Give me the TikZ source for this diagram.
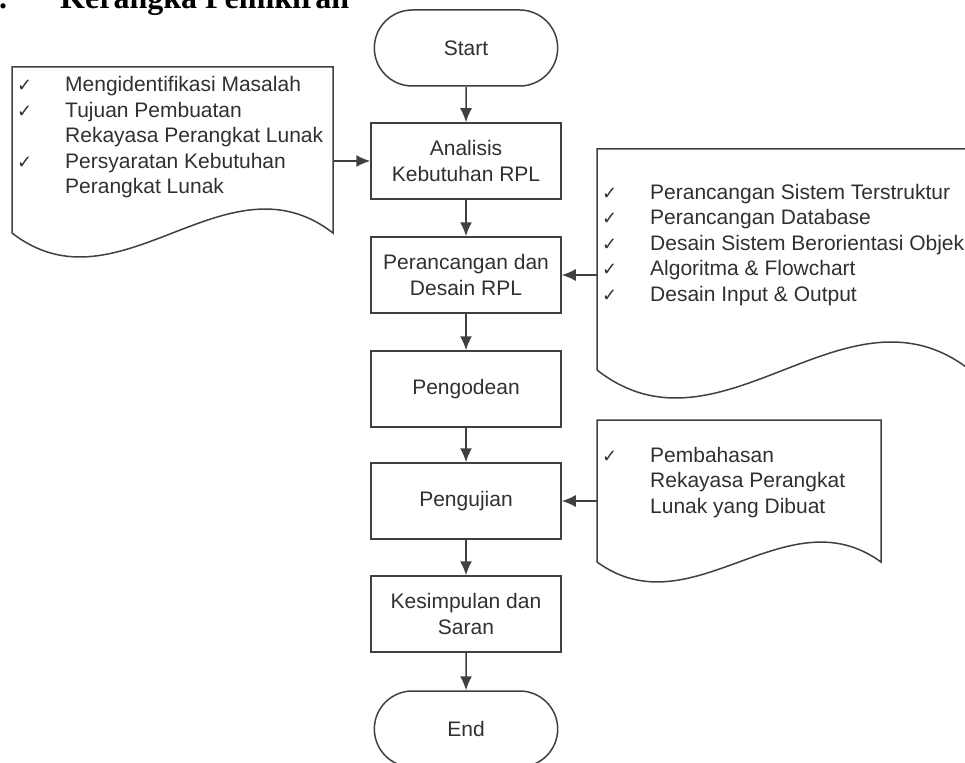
\documentclass[tikz,border=0pt]{standalone}
\usepackage{fontspec}
\setmainfont{Liberation Sans}
\newfontfamily\titlefont{Liberation Serif}
\newfontfamily\checkfont{DejaVu Sans}
\usetikzlibrary{shapes.misc,arrows.meta}
\definecolor{linegray}{HTML}{404040}
\definecolor{textgray}{HTML}{303030}
\newcommand{\ck}{{\checkfont\fontsize{18}{18}\selectfont ✓}}

\begin{document}
\begin{tikzpicture}[
    x=1pt, y=-1pt,
    process/.style={rectangle, draw=linegray, line width=1.5pt, minimum width=190pt, minimum height=76pt, align=center, text=textgray, font=\fontsize{21}{25.5}\selectfont},
    terminal/.style={process, rounded rectangle},
    doc/.style={draw=linegray, line width=1.5pt},
    doctext/.style={anchor=base west, inner sep=0pt, text=textgray, font=\fontsize{21}{25.5}\selectfont},
    arrow/.style={-{Latex[length=14pt,width=12pt]}, draw=linegray, line width=1.5pt}
]
    \clip (0,0) rectangle (965,762);

    % Judul
    \node[anchor=base west, inner sep=0pt, font=\titlefont\bfseries\fontsize{32}{32}\selectfont] (titik) at (-1,9) {.};
    \node[anchor=base west, inner sep=0pt, font=\titlefont\bfseries\fontsize{32}{32}\selectfont] (judul) at (60,9) {Kerangka Pemikiran};

    % Alur utama
    \node[terminal] (start) at (466,48) {Start};
    \node[process] (analisis) at (466,161) {Analisis\\Kebutuhan RPL};
    \node[process] (desain) at (466,275) {Perancangan dan\\Desain RPL};
    \node[process] (kode) at (466,389) {Pengodean};
    \node[process] (uji) at (466,501) {Pengujian};
    \node[process] (simpul) at (466,614) {Kesimpulan dan\\Saran};
    \node[terminal] (end) at (466,729) {End};

    % Dokumen
    \draw[doc] (12,67) -- (333,67) -- (333,233) .. controls (226,150) and (119,316) .. (12,233) -- cycle;
    \draw[doc] (597,149) -- (970,149) -- (970,370) .. controls (846,273) and (721,467) .. (597,370) -- cycle;
    \draw[doc] (597,420) -- (881,420) -- (881,562) .. controls (786,493) and (692,631) .. (597,562) -- cycle;

    \node[doctext] (kebutuhan) at (17,92) {\begin{tabular}[t]{@{}p{48pt}@{}l@{}}
        \ck & Mengidentifikasi Masalah\\
        \ck & Tujuan Pembuatan\\
            & Rekayasa Perangkat Lunak\\
        \ck & Persyaratan Kebutuhan\\
            & Perangkat Lunak
    \end{tabular}};
    \node[doctext] (rancangan) at (602,199) {\begin{tabular}[t]{@{}p{48pt}@{}l@{}}
        \ck & Perancangan Sistem Terstruktur\\
        \ck & Perancangan Database\\
        \ck & Desain Sistem Berorientasi Objek\\
        \ck & Algoritma \& Flowchart\\
        \ck & Desain Input \& Output
    \end{tabular}};
    \node[doctext] (bahas) at (602,462) {\begin{tabular}[t]{@{}p{48pt}@{}l@{}}
        \ck & Pembahasan\\
            & Rekayasa Perangkat\\
            & Lunak yang Dibuat
    \end{tabular}};

    \coordinate (docL) at (333,161);
    \coordinate (docR) at (597,275);
    \coordinate (docU) at (597,501);

    % Panah
    \draw[arrow] (start) -- (analisis);
    \draw[arrow] (analisis) -- (desain);
    \draw[arrow] (desain) -- (kode);
    \draw[arrow] (kode) -- (uji);
    \draw[arrow] (uji) -- (simpul);
    \draw[arrow] (simpul) -- (end);
    \draw[arrow] (docL) -- (analisis);
    \draw[arrow] (docR) -- (desain);
    \draw[arrow] (docU) -- (uji);
\end{tikzpicture}
\end{document}
